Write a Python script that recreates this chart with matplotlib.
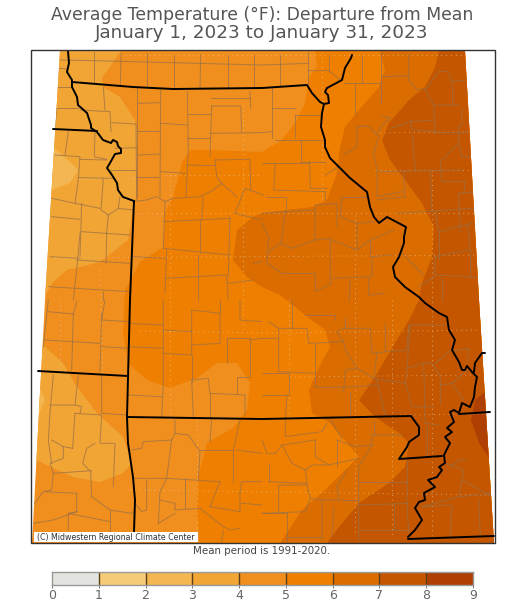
import matplotlib
matplotlib.use("Agg")
import matplotlib.pyplot as plt
from matplotlib.colors import ListedColormap, BoundaryNorm
from matplotlib.patches import Polygon, Rectangle

title_lines = ["Average Temperature (°F): Departure from Mean", "January 1, 2023 to January 31, 2023"]
footnote = "Mean period is 1991-2020."
credit = "(C) Midwestern Regional Climate Center"

levels = [0, 1, 2, 3, 4, 5, 6, 7, 8, 9]
band_colors = ["#E3E3DF", "#F7CC78", "#F3B650", "#F1A535", "#F08F1E",
               "#EF7F00", "#DA6C00", "#C45600", "#AE4004"]

# all map geometry, x/y in image pixels
map_outline = [(60, 51), (45, 300), (32, 543), (494, 543), (479, 300), (465, 51)]

band3_nw = [(121, 51), (102, 78), (103, 87), (120, 97), (135, 120), (137, 133), (136, 197), (133, 207),
            (130, 227), (128, 240), (100, 262), (67, 270), (52, 283), (46, 295), (20, 295), (20, 51)]
band3_sw = [(43, 345), (63, 363), (77, 387), (97, 413), (123, 437), (132, 463), (123, 473), (100, 482),
            (73, 477), (36, 460), (20, 455), (20, 345)]
band2_a = [(53, 147), (68, 160), (78, 170), (70, 183), (52, 190), (20, 190), (20, 147)]
band2_b = [(41, 390), (45, 400), (39, 414), (20, 414), (20, 390)]
band5 = [(315, 51), (317, 67), (309, 77), (305, 103), (295, 123), (282, 140), (262, 152), (210, 150),
         (190, 150), (182, 163), (173, 197), (165, 213), (163, 247), (140, 262), (125, 290), (123, 333),
         (128, 363), (147, 380), (170, 388), (197, 378), (217, 363), (237, 363), (250, 383), (247, 410),
         (233, 428), (207, 443), (198, 477), (197, 513), (200, 550), (510, 550), (510, 51)]
band6 = [(380, 51), (385, 70), (379, 87), (359, 110), (345, 127), (340, 147), (337, 173), (327, 200),
         (312, 207), (262, 213), (253, 217), (237, 230), (233, 260), (247, 277), (262, 287), (280, 295),
         (305, 315), (325, 330), (330, 347), (319, 367), (309, 390), (312, 413), (330, 423), (342, 437),
         (359, 457), (345, 470), (325, 490), (302, 510), (282, 540), (278, 550), (510, 550), (510, 51)]
band7 = [(439, 51), (435, 67), (425, 87), (409, 100), (389, 123), (382, 140), (390, 160), (405, 180),
         (422, 203), (434, 227), (432, 257), (422, 283), (419, 300), (409, 320), (395, 343), (375, 377),
         (359, 400), (375, 417), (399, 433), (409, 443), (405, 467), (389, 483), (359, 503), (339, 527),
         (329, 540), (325, 550), (510, 550), (510, 51)]
band8 = [(485, 392), (475, 400), (471, 420), (479, 443), (489, 458), (510, 458), (510, 392)]

state_lines = [
    [(68, 51), (69, 63), (67, 72), (72, 80), (72, 87), (77, 97), (78, 105), (87, 113), (91, 125), (91, 128),
     (97, 132), (103, 140), (111, 143), (113, 140), (117, 142), (118, 146), (121, 149), (121, 153), (115, 154),
     (110, 163), (107, 168), (112, 175), (117, 183), (118, 190), (123, 197), (134, 201)],
    [(72, 82), (133, 87), (173, 89), (262, 88), (307, 85), (312, 93), (320, 102), (324, 104)],
    [(352, 55), (351, 58), (345, 68), (342, 80), (327, 88), (325, 92), (328, 95), (329, 103), (324, 104), (322, 113),
     (321, 127), (325, 140), (325, 147), (330, 158), (342, 170), (350, 178), (367, 192), (370, 207), (374, 217),
     (379, 223), (387, 217), (406, 227), (404, 237), (404, 243), (399, 257), (393, 267), (395, 277), (405, 287),
     (419, 297), (425, 303), (439, 313), (447, 317), (449, 330), (455, 340), (452, 350), (459, 362), (462, 370),
     (465, 370), (467, 366), (472, 372), (477, 377), (475, 387), (474, 397), (470, 407), (462, 403), (459, 413),
     (454, 410), (450, 412), (454, 422), (447, 428), (452, 432), (445, 437), (450, 443), (444, 455), (445, 463),
     (439, 467), (442, 470), (437, 477), (428, 480), (435, 487), (424, 493), (425, 500), (419, 502), (415, 508),
     (422, 520), (415, 530), (408, 537)],
    [(485, 353), (482, 353), (475, 363), (474, 372)],
    [(459, 414), (490, 412)],
    [(127, 417), (262, 419), (411, 416), (419, 427), (419, 435), (409, 442), (407, 447), (399, 459), (442, 456)],
    [(408, 539), (494, 536)],
    [(134, 201), (130, 300), (127, 417), (128, 443), (133, 477), (135, 500), (134, 532)],
    [(38, 371), (128, 376)],
    [(53, 129), (97, 131)],
]

# county lines, traced per quadrant on 3x crops; see crop_offsets
counties_nw = [
    [(283, 155), (283, 246)], [(363, 160), (361, 256)], [(441, 160), (441, 262)], [(522, 165), (522, 266)],
    [(602, 165), (600, 265)], [(683, 165), (683, 265)], [(762, 165), (762, 265)], [(180, 180), (283, 182)],
    [(283, 182), (786, 195)], [(175, 205), (205, 207)], [(175, 262), (215, 262)], [(170, 325), (235, 325)],
    [(170, 325), (165, 385)], [(310, 262), (315, 330)], [(240, 330), (330, 335), (333, 395)],
    [(335, 368), (408, 372), (410, 600)], [(412, 265), (412, 590)], [(345, 445), (410, 443)], [(330, 510), (408, 510)],
    [(415, 310), (480, 308)], [(415, 392), (480, 392)], [(415, 465), (480, 462)], [(410, 530), (475, 530)],
    [(482, 270), (480, 590)], [(562, 275), (565, 440), (558, 590)], [(482, 370), (560, 375)], [(482, 515), (555, 520)],
    [(565, 342), (630, 342)], [(635, 318), (722, 318), (725, 395)], [(635, 318), (630, 470)], [(630, 400), (786, 398)],
    [(750, 275), (752, 325)], [(632, 295), (750, 295)], [(562, 415), (630, 415)], [(560, 495), (645, 497)],
    [(645, 480), (750, 478), (752, 570)], [(645, 480), (650, 530), (665, 550)],
    [(403, 604), (440, 600), (470, 590), (495, 605), (520, 595), (600, 590), (640, 570), (665, 550), (710, 590)],
    [(735, 565), (790, 585)], [(705, 640), (785, 660)], [(735, 565), (705, 640)], [(610, 590), (605, 660)],
    [(495, 605), (490, 745)], [(490, 665), (690, 655)], [(490, 745), (690, 765)], [(600, 660), (600, 760)],
    [(690, 650), (685, 830)], [(500, 750), (495, 880)], [(400, 770), (495, 775)], [(495, 835), (680, 825)],
    [(595, 765), (595, 900)], [(680, 830), (685, 900)], [(685, 850), (760, 840)], [(760, 790), (786, 785)],
    [(205, 395), (195, 465)], [(285, 395), (283, 470), (320, 478)], [(165, 465), (240, 470), (235, 540), (225, 610), (300, 625)],
    [(240, 478), (320, 480)], [(235, 533), (340, 535)], [(310, 535), (303, 630), (325, 645), (355, 625)],
    [(360, 590), (355, 625), (400, 630)], [(155, 595), (225, 610)], [(155, 650), (240, 658)], [(245, 610), (240, 770)],
    [(325, 645), (320, 700)], [(245, 695), (390, 705)], [(320, 700), (318, 790)], [(240, 700), (230, 810), (220, 900)],
    [(230, 780), (390, 790)], [(150, 770), (240, 775)], [(145, 860), (390, 875)], [(310, 875), (310, 900)],
]
counties_ne = [
    [(55, 165), (55, 255)], [(0, 195), (138, 190)], [(138, 155), (138, 255)], [(138, 212), (200, 212), (235, 240)],
    [(200, 165), (200, 212)], [(300, 165), (300, 250)], [(358, 155), (358, 310)], [(245, 250), (358, 250)],
    [(280, 250), (280, 345)], [(360, 230), (440, 228)], [(440, 165), (440, 240), (465, 270), (490, 265)],
    [(360, 350), (385, 355)], [(530, 215), (560, 215), (568, 245), (610, 240)], [(525, 220), (490, 270), (515, 315), (590, 315)],
    [(570, 245), (570, 315)], [(515, 318), (520, 400)], [(385, 385), (445, 365), (515, 360)], [(447, 360), (450, 390), (520, 395)],
    [(285, 380), (320, 378), (345, 405), (360, 375), (385, 355)], [(285, 380), (285, 440), (245, 465)],
    [(350, 410), (335, 460), (345, 510)], [(345, 515), (600, 510)], [(520, 395), (625, 395)],
    [(600, 325), (600, 375), (590, 380), (590, 430), (600, 470), (630, 470)], [(450, 400), (460, 510)],
    [(535, 480), (540, 545), (610, 545)], [(590, 430), (540, 480)], [(505, 510), (510, 635)], [(425, 515), (428, 590)],
    [(345, 515), (345, 590), (420, 575)], [(345, 600), (430, 590)], [(407, 640), (630, 625)],
    [(520, 635), (530, 695), (630, 670)], [(590, 580), (640, 575)], [(590, 580), (595, 695)], [(610, 545), (605, 580)],
    [(530, 695), (530, 780)], [(615, 670), (625, 750)], [(518, 770), (620, 750)], [(520, 770), (518, 830), (470, 860)],
    [(540, 830), (540, 900)], [(625, 750), (625, 830), (650, 830)], [(520, 825), (625, 830)], [(420, 760), (485, 825)],
    [(330, 770), (390, 765)], [(240, 590), (315, 590)], [(240, 590), (235, 650), (285, 670), (335, 665)],
    [(160, 615), (225, 610), (225, 680)], [(160, 615), (158, 720), (205, 715), (205, 850)], [(65, 635), (158, 630)],
    [(70, 635), (60, 710), (55, 730), (90, 745), (158, 720)], [(285, 670), (285, 750), (210, 720)],
    [(285, 750), (325, 720), (395, 690)], [(325, 720), (325, 770)], [(330, 770), (330, 830), (210, 835)],
    [(60, 820), (160, 820)], [(160, 820), (160, 875), (210, 850)], [(0, 670), (20, 710), (15, 790), (60, 820)],
    [(20, 755), (55, 730)], [(265, 840), (262, 900)], [(320, 835), (320, 885), (365, 880)],
    [(0, 490), (140, 490)], [(40, 490), (35, 570), (190, 575), (190, 600)], [(118, 420), (118, 485), (190, 485)],
    [(40, 420), (190, 420)], [(98, 345), (98, 415)], [(30, 265), (30, 415)], [(98, 345), (180, 345)], [(30, 325), (98, 325)],
    [(30, 395), (0, 398)], [(143, 485), (145, 565), (195, 565)], [(190, 525), (230, 500)], [(12, 590), (72, 590), (72, 630)],
    [(0, 640), (72, 635)],
]
counties_sw = [
    [(145, 35), (220, 42)], [(135, 120), (220, 125)], [(220, 42), (215, 210)], [(305, 60), (390, 65)], [(305, 40), (300, 215)],
    [(220, 125), (300, 130)], [(305, 140), (385, 145)], [(145, 0), (130, 140)], [(230, 5), (220, 42)], [(315, 0), (305, 60)],
    [(160, 225), (150, 340), (145, 420), (155, 490)], [(235, 225), (225, 315), (150, 315)], [(225, 315), (245, 320), (240, 340)],
    [(225, 340), (218, 445)], [(225, 340), (305, 345), (300, 430), (345, 430), (340, 560)], [(305, 225), (305, 340), (380, 345)],
    [(285, 430), (260, 445), (248, 490), (272, 515), (275, 590)], [(218, 445), (190, 440), (155, 420)],
    [(190, 440), (190, 475), (150, 490), (160, 520), (275, 512)], [(160, 520), (155, 570), (130, 575), (100, 615)],
    [(135, 575), (230, 580), (230, 635), (205, 640), (205, 690)], [(275, 590), (330, 630), (395, 640), (405, 630)],
    [(230, 635), (160, 660), (100, 670)], [(330, 630), (330, 695)], [(205, 640), (330, 665)],
    [(400, 535), (500, 535), (515, 420), (430, 425), (425, 445), (395, 450)], [(500, 535), (480, 575), (475, 670)],
    [(525, 360), (525, 400), (515, 420)], [(525, 400), (565, 405), (600, 455), (595, 540)], [(635, 360), (630, 425)],
    [(555, 535), (555, 625)], [(500, 535), (660, 545)], [(405, 610), (425, 635), (440, 630), (440, 540)],
    [(480, 600), (525, 610), (525, 630), (600, 625)], [(475, 670), (525, 640)], [(600, 450), (700, 450), (700, 545)],
    [(700, 450), (720, 360)], [(660, 545), (630, 620)], [(630, 620), (720, 635), (720, 580)],
    [(600, 625), (670, 680), (690, 690), (720, 685)], [(710, 450), (785, 460)], [(720, 580), (725, 545), (786, 545)],
    [(725, 610), (786, 615)], [(670, 690), (665, 725)], [(385, 70), (490, 75)], [(390, 140), (490, 145)],
    [(490, 0), (490, 250), (485, 350)], [(490, 90), (575, 95)], [(490, 160), (575, 165), (575, 30), (660, 40), (660, 130), (575, 135)],
    [(660, 0), (660, 40)], [(680, 115), (750, 115), (750, 230), (710, 230), (710, 280)], [(680, 115), (680, 190)],
    [(575, 240), (625, 235), (630, 280), (735, 285), (735, 345)], [(575, 240), (580, 350)], [(485, 290), (385, 285)],
    [(630, 280), (630, 350)], [(575, 165), (575, 245)], [(720, 0), (720, 60), (786, 65)], [(750, 120), (786, 115)],
]
counties_se = [
    [(0, 115), (50, 115), (50, 85), (135, 85), (140, 130), (245, 125), (225, 95), (245, 85), (325, 85), (330, 160), (375, 155)],
    [(130, 45), (220, 45), (220, 60)], [(90, 0), (90, 85)], [(20, 65), (50, 85)], [(50, 115), (50, 215), (160, 220)],
    [(160, 130), (160, 260)], [(245, 125), (250, 150), (285, 205), (250, 210), (245, 275)], [(0, 220), (80, 220), (80, 285), (0, 285)],
    [(75, 285), (70, 355)], [(160, 262), (245, 262), (345, 255)], [(265, 275), (265, 350)], [(345, 240), (370, 350)],
    [(345, 160), (335, 235)], [(370, 70), (370, 155), (435, 150), (440, 75), (560, 75)], [(250, 55), (250, 85)],
    [(285, 205), (335, 235), (430, 250), (450, 320), (515, 320)], [(445, 75), (435, 205), (430, 250)],
    [(435, 205), (485, 190), (510, 190), (535, 230), (535, 315)], [(485, 190), (490, 370), (530, 375)],
    [(535, 255), (570, 250), (605, 300)], [(520, 190), (560, 155), (620, 145), (615, 190)], [(570, 250), (615, 210)],
    [(70, 360), (70, 410), (180, 395), (195, 370)], [(0, 420), (15, 460), (40, 460), (60, 435), (160, 420)],
    [(225, 420), (225, 500)], [(225, 420), (280, 440), (330, 435), (330, 405), (420, 405)], [(205, 360), (240, 415)],
    [(335, 360), (335, 405)], [(330, 435), (290, 500), (290, 720)], [(60, 435), (90, 490), (130, 510), (150, 495), (200, 495)],
    [(160, 420), (160, 470), (200, 495), (290, 475)], [(130, 510), (135, 555), (50, 555), (50, 635)], [(20, 545), (135, 550)],
    [(135, 555), (145, 595), (130, 635), (0, 640)], [(20, 490), (20, 545)], [(255, 510), (225, 560), (230, 600), (180, 600), (180, 720)],
    [(145, 595), (180, 600)], [(230, 600), (290, 600)], [(290, 545), (435, 545), (435, 480)], [(435, 545), (435, 610), (440, 700)],
    [(290, 615), (440, 610)], [(395, 610), (395, 690)], [(295, 690), (435, 690)], [(215, 625), (210, 710)], [(75, 640), (75, 725)],
    [(0, 640), (75, 640)], [(75, 710), (180, 710)], [(565, 500), (590, 480), (610, 480)], [(550, 490), (605, 510), (600, 540), (690, 590)],
    [(600, 540), (590, 590), (480, 620)], [(590, 590), (690, 580)], [(570, 615), (565, 710)], [(650, 600), (655, 705)],
    [(480, 620), (565, 615)], [(495, 375), (495, 465)],
]
crop_offsets = [(counties_nw, 0, 0), (counties_ne, 262, 0), (counties_sw, 0, 300), (counties_se, 262, 300)]

# climate division lines, the faint dotted ones
division_lines = [
    [(120, 55), (465, 55)], [(165, 175), (262, 175)], [(375, 133), (468, 132)], [(375, 170), (472, 170)],
    [(137, 213), (510, 213)], [(55, 258), (490, 255)], [(262, 333), (479, 330)], [(290, 377), (480, 375)],
    [(140, 331), (262, 333)], [(50, 180), (140, 178)], [(400, 415), (485, 414)], [(130, 490), (490, 495)],
    [(322, 52), (322, 200)], [(289, 300), (289, 420)], [(355, 215), (355, 535)], [(392, 300), (392, 535)],
    [(432, 170), (432, 535)], [(170, 175), (170, 420)], [(197, 420), (197, 535)], [(243, 105), (243, 330)],
    [(100, 270), (103, 375)], [(60, 300), (60, 375)],
]

cmap = ListedColormap(band_colors)
norm = BoundaryNorm(levels, cmap.N)

fig = plt.figure(figsize=(5.24, 6.03), dpi=100)
ax = fig.add_axes([0, 0, 1, 1])
ax.set_xlim(0, 524)
ax.set_ylim(603, 0)
ax.axis("off")

outline = Polygon(map_outline, closed=True, fc=band_colors[4], ec="none", zorder=1)
ax.add_patch(outline)
bands = [(band3_nw, 3), (band3_sw, 3), (band2_a, 2), (band2_b, 2), (band5, 5), (band6, 6), (band7, 7), (band8, 8)]
for pts, lev in bands:
    p = Polygon(pts, closed=True, fc=band_colors[lev], ec="none", zorder=2)
    ax.add_patch(p)
    p.set_clip_path(outline)

for pts in division_lines:
    l, = ax.plot([q[0] for q in pts], [q[1] for q in pts], color="#E8D5B8", lw=0.7, ls=(0, (1, 4)), alpha=0.6, zorder=3)
    l.set_clip_path(outline)

for lines, ox, oy in crop_offsets:
    for pts in lines:
        l, = ax.plot([ox + q[0] / 3 for q in pts], [oy + q[1] / 3 for q in pts],
                     color="#9A7048", lw=0.7, alpha=0.75, zorder=4)
        l.set_clip_path(outline)

for pts in state_lines:
    ax.plot([q[0] for q in pts], [q[1] for q in pts], color="black", lw=1.4, zorder=5,
            solid_joinstyle="round", solid_capstyle="round")

ax.add_patch(Rectangle((31, 50), 464, 493, fc="none", ec="#333333", lw=1.0, zorder=6))
ax.add_patch(Rectangle((33.5, 532), 164, 10, fc="white", ec="none", zorder=6))
ax.text(37, 537, credit, fontsize=5.7, color="#333333", va="center", ha="left", zorder=7)

ax.text(262, 15, title_lines[0], fontsize=12.4, color="#555555", ha="center", va="center")
ax.text(262, 33, title_lines[1], fontsize=13.2, color="#555555", ha="center", va="center")
ax.text(262, 551, footnote, fontsize=7.4, color="#444444", ha="center", va="center")

cax = fig.add_axes([52 / 524, 1 - 585 / 603, 421 / 524, 13 / 603])
cax.pcolormesh(levels, [0, 1], [[v + 0.5 for v in levels[:-1]]], cmap=cmap, norm=norm)
cax.set_yticks([])
cax.set_xticks(levels)
cax.set_xticklabels(levels)
cax.tick_params(axis="x", length=2, width=0.7, color="#777777", pad=1, labelsize=9, labelcolor="#666666")
for v in levels[1:-1]:
    cax.axvline(v, color="#5E4018", lw=1.0)
for s in cax.spines.values():
    s.set_color("#999999")
    s.set_linewidth(1.0)

fig.savefig("out.png", dpi=100)
